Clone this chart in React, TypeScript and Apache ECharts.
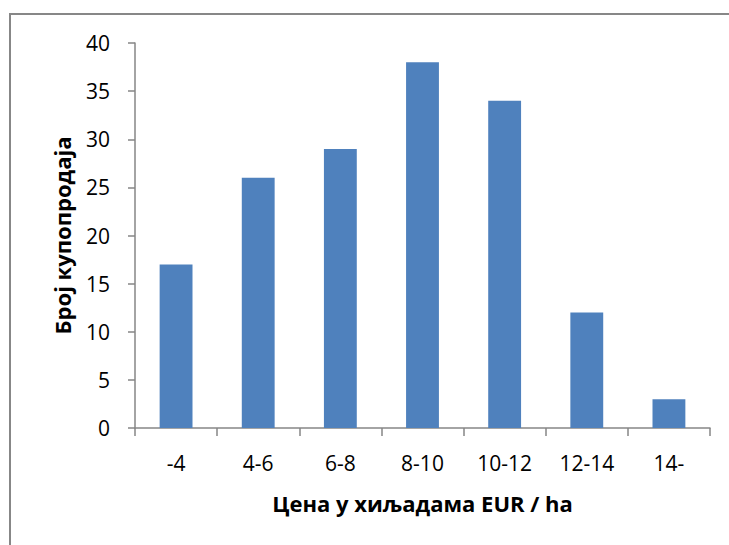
import React, { useEffect, useRef } from "react";
import * as echarts from "echarts";

const categories = ["-4", "4-6", "6-8", "8-10", "10-12", "12-14", "14-"];
const counts = [17, 26, 29, 38, 34, 12, 3];
const xTitle = "Цена у хиљадама EUR / ha";
const yTitle = "Број купопродаја";

export default function App() {
  const ref = useRef<HTMLDivElement>(null);
  useEffect(() => {
    const chart = echarts.init(ref.current!, null, { renderer: "svg" });
    const font = "'Open Sans', 'Noto Sans', sans-serif";
    chart.setOption({
      animation: false,
      backgroundColor: "#ffffff",
      graphic: [
        {
          type: "rect",
          shape: { x: 10, y: 14, width: 760, height: 600 },
          style: { fill: "none", stroke: "#878787", lineWidth: 2 },
          silent: true,
        },
      ],
      grid: { left: 135, right: 19, top: 43, bottom: 117 },
      xAxis: {
        type: "category",
        data: categories,
        name: xTitle,
        nameLocation: "middle",
        nameGap: 64,
        nameTextStyle: { fontFamily: font, fontSize: 22, fontWeight: "bold", color: "#000" },
        axisLine: { lineStyle: { color: "#868686", width: 1.5 } },
        axisTick: { show: true, length: 8, lineStyle: { color: "#868686", width: 1.5 } },
        axisLabel: { fontFamily: font, fontSize: 21, color: "#000", margin: 24 },
      },
      yAxis: {
        type: "value",
        min: 0,
        max: 40,
        interval: 5,
        name: yTitle,
        nameLocation: "middle",
        nameGap: 62,
        nameTextStyle: { fontFamily: font, fontSize: 22, fontWeight: "bold", color: "#000" },
        axisLine: { show: true, lineStyle: { color: "#868686", width: 1.5 } },
        axisTick: { show: true, length: 7, lineStyle: { color: "#868686", width: 1.5 } },
        axisLabel: { fontFamily: font, fontSize: 21, color: "#000", margin: 25 },
        splitLine: { show: false },
      },
      series: [
        {
          type: "bar",
          data: counts,
          barWidth: "40%",
          itemStyle: { color: "#4F81BD" },
        },
      ],
    });
    return () => chart.dispose();
  }, []);
  return (
    <div
      ref={ref}
      style={{ position: "absolute", left: 0, top: 0, width: 729, height: 545 }}
    />
  );
}
